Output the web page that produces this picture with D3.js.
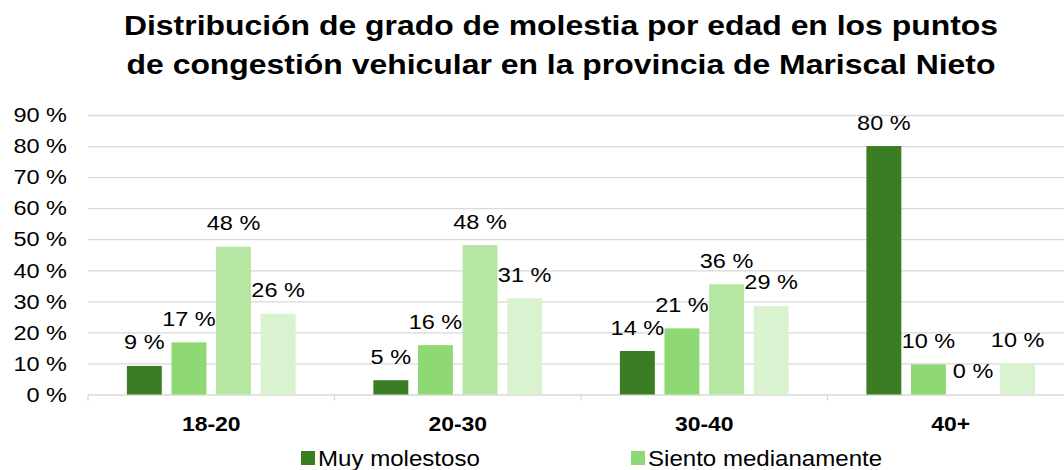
<!DOCTYPE html>
<html>
<head>
<meta charset="utf-8">
<script src="https://cdn.jsdelivr.net/npm/d3@7"></script>
<style>
  html, body { margin: 0; padding: 0; background: #fff; overflow: hidden; }
  #chart { width: 1064px; height: 470px; }
  text { font-family: "Liberation Sans", Arial, sans-serif; fill: #000; }
</style>
</head>
<body>
<div id="chart"></div>
<script>
// data
const titleLines = [
    "Distribución de grado de molestia por edad en los puntos",
    "de congestión vehicular en la provincia de Mariscal Nieto"
];
const categories = ["18-20", "20-30", "30-40", "40+"];
const seriesNames = ["Muy molestoso", "Siento medianamente", "Poco molestoso", "Nada molestoso"];
const muyMolestoso = [9.2, 4.6, 14.0, 80.0];
const sientoMedianamente = [16.8, 15.9, 21.3, 9.7];
const pocoMolestoso = [47.6, 48.1, 35.5, 0];
const nadaMolestoso = [26.0, 31.0, 28.5, 10.0];
const yTicks = [0, 10, 20, 30, 40, 50, 60, 70, 80, 90];
const colors = ["#3b7d23", "#8ed973", "#b5e6a2", "#d9f2d0"];

const seriesValues = [muyMolestoso, sientoMedianamente, pocoMolestoso, nadaMolestoso];

const div = document.getElementById("chart");
const divWidth = 1064, divHeight = 470;
const sx = 1.12; // the original's lettering is a little wider than Arial

// plot area runs a bit past the right edge, as in the original crop
const plot = { left: 88, right: 1074, top: 115, bottom: 394.5 };

const svg = d3.select(div).append("svg")
    .attr("width", divWidth)
    .attr("height", divHeight);

// Title
svg.append("g").attr("transform", "translate(561,0)")
    .append("text")
    .attr("text-anchor", "middle")
    .attr("transform", `scale(${sx},1)`)
    .style("font-size", "28.5px")
    .style("font-weight", "bold")
    .selectAll("tspan").data(titleLines).enter()
    .append("tspan")
    .attr("x", 0)
    .attr("y", (d, i) => 35 + i * 39)
    .text(d => d);

// Scales
const x0 = d3.scaleBand().domain(categories).range([plot.left, plot.right]).padding(0);
const x1 = d3.scaleBand().domain(d3.range(seriesNames.length))
    .range([0, x0.bandwidth()])
    .paddingInner(0.217).paddingOuter(0.872);
const y = d3.scaleLinear().domain([0, 90]).range([plot.bottom, plot.top]);

// gridlines
svg.append("g")
    .attr("transform", `translate(${plot.left},0)`)
    .call(d3.axisLeft(y).tickValues(yTicks).tickSize(-(plot.right - plot.left)).tickFormat(""))
    .call(g => g.select(".domain").remove())
    .call(g => g.selectAll("line").attr("stroke", "#d9d9d9").attr("stroke-width", 1.3));

// y labels
svg.append("g")
    .attr("transform", `translate(${plot.left},0)`)
    .call(d3.axisLeft(y).tickValues(yTicks).tickSize(0).tickFormat(d => d + " %"))
    .call(g => g.select(".domain").remove())
    .call(g => g.selectAll("text")
        .attr("x", 0)
        .attr("transform", `translate(-21,0) scale(${sx},1)`)
        .style("font-size", "21px"));

// x axis ticks at band edges
const edges = categories.map(c => x0(c)).concat([plot.right]);
svg.append("g").selectAll("line").data(edges).enter()
    .append("line")
    .attr("x1", d => d).attr("x2", d => d)
    .attr("y1", plot.bottom).attr("y2", plot.bottom + 6)
    .attr("stroke", "#d9d9d9").attr("stroke-width", 1.3);

// x labels
svg.append("g")
    .attr("transform", `translate(0,${plot.bottom})`)
    .call(d3.axisBottom(x0).tickSize(0).tickPadding(22))
    .call(g => g.select(".domain").remove())
    .call(g => g.selectAll("text")
        .attr("transform", `scale(${sx},1)`)
        .style("font-size", "20.5px").style("font-weight", "bold"));

// Bars
const groups = svg.append("g").selectAll("g").data(categories).enter()
    .append("g")
    .attr("transform", d => `translate(${x0(d)},0)`);

const barData = (c, ci) => seriesValues.map((vals, si) => ({ si, value: vals[ci] }));

groups.selectAll("rect").data(barData).enter()
    .append("rect")
    .attr("x", d => x1(d.si))
    .attr("width", x1.bandwidth())
    .attr("y", d => y(d.value))
    .attr("height", d => y(0) - y(d.value))
    .attr("fill", d => colors[d.si]);

// Labels
groups.selectAll("text.lbl").data(barData).enter()
    .append("text")
    .attr("class", "lbl")
    .attr("text-anchor", "middle")
    .attr("transform", d => `translate(${x1(d.si) + x1.bandwidth() / 2},${y(d.value) - 16.5}) scale(${sx},1)`)
    .style("font-size", "21px")
    .text(d => d3.format(".0f")(d.value) + " %");

// Legend: only the first row is inside the picture
const legend = svg.append("g").selectAll("g").data(seriesNames.slice(0, 2)).enter()
    .append("g")
    .attr("transform", (d, i) => `translate(${i === 0 ? 301 : 631},451)`);

legend.append("rect")
    .attr("width", 14).attr("height", 14)
    .attr("fill", (d, i) => colors[i]);

legend.append("text")
    .attr("transform", `translate(17,14.5) scale(${sx},1)`)
    .style("font-size", "21.5px")
    .text(d => d);
</script>
</body>
</html>
